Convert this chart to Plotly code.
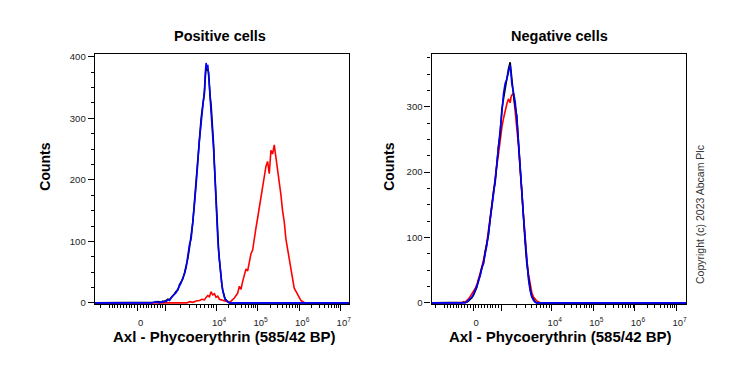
import math
import plotly.graph_objects as go

# ---------------- data (x in biexponential display units: 10^4 -> 4, 10^5 -> 5 ...) -------------
pos_blue_x = [1.08, 2.30, 2.45, 2.55, 2.60, 2.64, 2.68, 2.72, 2.76, 2.80, 2.84, 2.88, 2.92, 2.96,
              3.00, 3.04, 3.08, 3.12, 3.16, 3.20, 3.24, 3.28, 3.32, 3.36, 3.40, 3.44, 3.48, 3.52,
              3.56, 3.60, 3.64, 3.68, 3.72, 3.74, 3.76, 3.78, 3.80, 3.82, 3.84, 3.86, 3.88, 3.90,
              3.92, 3.94, 3.96, 3.98, 4.00, 4.02, 4.04, 4.06, 4.08, 4.10, 4.12, 4.14, 4.16, 4.18,
              4.20, 4.22, 4.24, 4.28, 4.32, 4.40, 7.20]
pos_blue_y = [0, 1, 0, 2, 1, 0, 2, 1, 3, 2, 5, 4, 9, 11,
              14, 17, 22, 28, 33, 41, 47, 58, 76, 95, 104, 128, 160, 192,
              238, 265, 292, 318, 346, 372, 390, 382, 387, 370, 352, 337, 318, 298,
              282, 250, 222, 188, 158, 131, 105, 84, 66, 52, 38, 28, 20, 13,
              9, 6, 4, 2, 0, 0, 0]
pos_black_y = [0, 0, 1, 1, 2, 1, 1, 3, 2, 4, 6, 5, 8, 12,
               15, 19, 21, 30, 35, 39, 49, 60, 72, 90, 108, 131, 165, 200,
               244, 270, 300, 322, 340, 365, 385, 378, 380, 374, 345, 334, 322, 305,
               288, 258, 226, 195, 162, 134, 110, 88, 70, 54, 40, 30, 21, 14,
               10, 6, 5, 2, 0, 0, 0]
pos_red_x = [1.08, 3.10, 3.20, 3.30, 3.36, 3.44, 3.52, 3.60, 3.66, 3.72, 3.76, 3.80, 3.84, 3.88,
             3.92, 3.96, 4.00, 4.04, 4.08, 4.14, 4.20, 4.26, 4.32, 4.36, 4.40, 4.44, 4.48, 4.52,
             4.56, 4.60, 4.64, 4.68, 4.72, 4.76, 4.80, 4.84, 4.88, 4.92, 4.96, 5.00, 5.04, 5.08,
             5.12, 5.16, 5.20, 5.24, 5.28, 5.32, 5.36, 5.40, 5.44, 5.48, 5.52, 5.56, 5.60, 5.64,
             5.68, 5.72, 5.76, 5.80, 5.84, 5.88, 5.92, 5.96, 6.00, 6.04, 6.08, 6.14, 7.20]
pos_red_y = [0, 0, 1, 0, 2, 1, 3, 4, 6, 5, 9, 12, 10, 18,
             13, 15, 9, 11, 6, 5, 3, 2, 1, 3, 5, 8, 12, 16,
             27, 22, 35, 44, 55, 52, 68, 80, 86, 108, 122, 138, 155, 170,
             192, 205, 222, 230, 210, 248, 242, 257, 238, 215, 192, 176, 150, 132,
             104, 88, 68, 50, 36, 24, 19, 13, 9, 4, 2, 0, 0]

neg_x = [1.11, 1.84, 1.88, 1.92, 1.96, 2.00, 2.04, 2.08, 2.12, 2.16, 2.20, 2.24, 2.28, 2.32,
         2.36, 2.40, 2.44, 2.48, 2.52, 2.56, 2.60, 2.64, 2.68, 2.72, 2.76, 2.80, 2.84, 2.88,
         2.92, 2.96, 3.00, 3.02, 3.04, 3.08, 3.12, 3.16, 3.20, 3.24, 3.28, 3.32, 3.36, 3.40,
         3.44, 3.48, 3.52, 3.56, 3.60, 3.64, 3.70, 3.76, 7.23]
neg_blue_y = [0, 0, 1, 0, 2, 4, 6, 9, 14, 19, 26, 33, 45, 52,
              62, 74, 88, 108, 125, 146, 166, 188, 212, 232, 262, 290, 320, 336,
              342, 352, 364, 350, 335, 322, 308, 282, 250, 212, 172, 132, 96, 58,
              36, 19, 9, 4, 1, 0, 0, 0, 0]
neg_black_y = [0, 0, 0, 1, 1, 3, 5, 8, 12, 17, 24, 35, 42, 55,
               60, 78, 92, 104, 128, 150, 170, 184, 215, 240, 258, 296, 312, 330,
               348, 358, 368, 355, 340, 318, 300, 286, 246, 205, 168, 128, 92, 60,
               38, 22, 10, 5, 2, 0, 0, 0, 0]
neg_red_y = [0, 0, 2, 1, 4, 6, 10, 14, 17, 22, 28, 36, 44, 55,
             66, 78, 92, 112, 136, 150, 170, 194, 210, 228, 250, 268, 282, 296,
             304, 312, 306, 314, 318, 320, 296, 270, 240, 204, 168, 130, 98, 66,
             44, 28, 16, 9, 5, 3, 1, 0, 0]

major_vals = [0, 1e3, 1e4, 1e5, 1e6, 1e7]
major_text = ["0", "", "10<sup>4</sup>", "10<sup>5</sup>", "10<sup>6</sup>", "10<sup>7</sup>"]

# ---------------- axis transform (for tick placement) ----------------
ZERO = 2.11


def disp(v):
    s = 1 if v >= 0 else -1
    a = abs(v)
    if a <= 1000:
        d = 0.68 * a / 1000
    elif a < 1e4:
        d = 0.68 + 1.21 * (math.log10(a) - 3)
    else:
        d = 0.68 + 1.21 + (math.log10(a) - 4)
    return ZERO + s * d


minor_raw = []
for k in range(1, 10):
    minor_raw += [k * 100, -k * 100]
minor_raw += [-1000, -1500]
for dec in [1e3, 1e4, 1e5, 1e6]:
    minor_raw += [k * dec for k in range(2, 10)]
minor_vals = sorted(disp(v) for v in minor_raw)
tickvals = [disp(v) for v in major_vals]

W, H = 739, 370
FONT = "Liberation Sans, Arial, sans-serif"

fig = go.Figure()


def add(x, y, color, xa, ya):
    fig.add_trace(go.Scatter(x=x, y=y, mode="lines", line=dict(color=color, width=1.6),
                             xaxis=xa, yaxis=ya, showlegend=False, hoverinfo="skip"))


add(pos_red_x, pos_red_y, "#ff0000", "x", "y")
add(pos_blue_x, pos_black_y, "#000000", "x", "y")
add(pos_blue_x, pos_blue_y, "#0000ff", "x", "y")
add(neg_x, neg_red_y, "#ff0000", "x2", "y2")
add(neg_x, neg_black_y, "#000000", "x2", "y2")
add(neg_x, neg_blue_y, "#0000ff", "x2", "y2")


def xaxis(dom, rng, anchor):
    return dict(domain=dom, range=rng, anchor=anchor, showgrid=False, zeroline=False,
                showline=True, linecolor="black", linewidth=1.3, mirror=True,
                tickmode="array", tickvals=tickvals, ticktext=major_text,
                ticks="outside", ticklen=6, tickwidth=1.3, tickcolor="black",
                ticklabelstandoff=4, ticklabelshift=3,
                tickfont=dict(family=FONT, size=9.5, color="#222"),
                minor=dict(tickmode="array", tickvals=minor_vals, ticks="outside",
                           ticklen=3, tickwidth=1, tickcolor="black"))


def yaxis(dom, rng, anchor):
    return dict(domain=dom, range=rng, anchor=anchor, showgrid=False, zeroline=False,
                showline=True, linecolor="black", linewidth=1.3, mirror=True,
                tickmode="linear", tick0=0, dtick=100,
                ticks="outside", ticklen=6, tickwidth=1.3, tickcolor="black",
                tickfont=dict(family=FONT, size=9.5, color="#222"),
                minor=dict(tickmode="linear", dtick=25, ticks="outside",
                           ticklen=3, tickwidth=1, tickcolor="black"))


ydom = [1 - 306.7 / H, 1 - 51.7 / H]
fig.update_layout(
    width=W, height=H, margin=dict(l=0, r=0, t=0, b=0),
    paper_bgcolor="white", plot_bgcolor="white",
    xaxis=xaxis([95 / W, 350 / W], [1.08, 7.20], "y"),
    yaxis=yaxis(ydom, [-1.6, 405], "x"),
    xaxis2=xaxis([432.7 / W, 688 / W], [1.11, 7.23], "y2"),
    yaxis2=yaxis(ydom, [-1.5, 381], "x2"),
)


def ann(text, x, y, size, angle=0, color="black"):
    fig.add_annotation(text=text, x=x / W, y=1 - y / H, xref="paper", yref="paper",
                       showarrow=False, textangle=angle, xanchor="center", yanchor="middle",
                       font=dict(family=FONT, size=size, color=color))


ann("<b>Positive cells</b>", 221, 34, 14.5)
ann("<b>Negative cells</b>", 561, 34, 14.5)
ann("<b>Axl - Phycoerythrin (585/42 BP)</b>", 225, 340, 15)
ann("<b>Axl - Phycoerythrin (585/42 BP)</b>", 562, 340, 15)
ann("<b>Counts</b>", 45, 167, 14, -90)
ann("<b>Counts</b>", 390, 167, 14, -90)
ann("Copyright (c) 2023 Abcam Plc", 702, 216, 10.5, -90, "#333")

fig.write_html("out.html", config={"displayModeBar": False},
               post_script="document.body.style.margin='0';")
